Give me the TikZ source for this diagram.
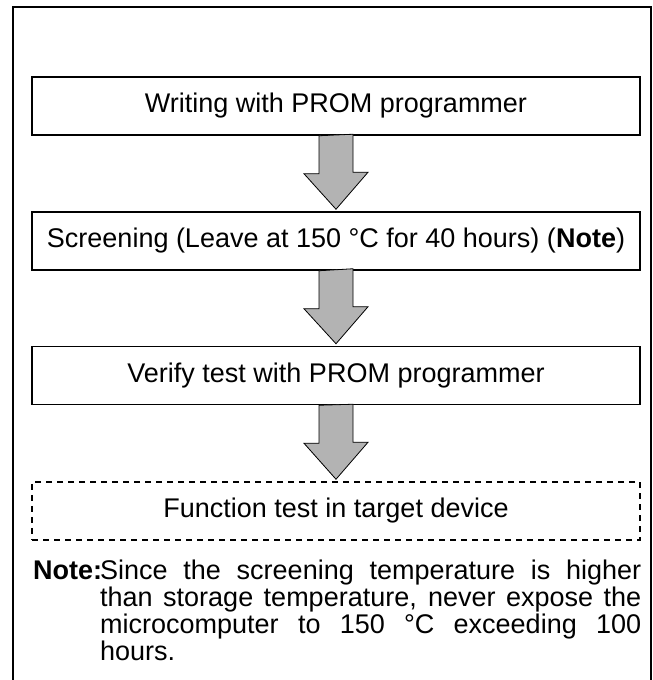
\documentclass[tikz,border=0pt]{standalone}
\usepackage{fontspec}
\setmainfont{Liberation Sans}
\usetikzlibrary{calc}
\definecolor{c1}{HTML}{000000}
\definecolor{c2}{HTML}{B3B3B3}

\begin{document}
\begin{tikzpicture}[
    x=1pt, y=1pt,
    every node/.style={font=\fontsize{27}{27}\selectfont, text=c1},
    stage/.style={rectangle, draw=c1, line width=1.5pt, fill=white,
                  minimum width=608pt, minimum height=58pt, inner sep=0pt},
    optstage/.style={stage, dash pattern=on 6pt off 5pt},
    fat/.style={draw=c1, fill=c2, line width=0.8pt, line join=miter},
]
\useasboundingbox (0,0) rectangle (653,680);

% ---------------- outer frame (open at the bottom)
\draw[c1, line width=2pt] (13,0) -- (13,673) -- (651,673) -- (651,0);

% ---------------- the four steps
\node[stage] (write) at (336,574) {Writing with PROM programmer};
\node[stage] (screen) at (336,439)
    {Screening (Leave at 150~°C for 40 hours) (\textbf{Note})};
\node[stage] (verify) at (336,304.5) {Verify test with PROM programmer};
\node[optstage] (func) at (336,169) {Function test in target device};

% ---------------- block arrows between them
\foreach \a/\b in {write/screen, screen/verify, verify/func}{
    \draw[fat] ($(\a.south)+(-17,0)$) -- ++(0,-38) -- ++(-15,0)
        -- ($(\b.north)+(0,2)$) -- ++(32,37) -- ++(-15,0) -- ++(0,38) -- cycle;
}

% ---------------- note
\node[anchor=base west, inner sep=0pt] (notetag) at (33,100)
    {\textbf{Note:}};
\node[anchor=north west, inner sep=0pt, text width=541pt, align=justify]
    (note) at (100,120)
    {Since the screening temperature is higher\linebreak
     than storage temperature, never expose the\linebreak
     microcomputer to 150~°C exceeding 100\linebreak
     hours.};
\end{tikzpicture}
\end{document}
